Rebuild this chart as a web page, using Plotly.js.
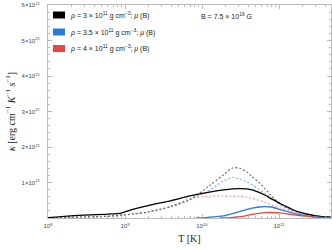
<!DOCTYPE html>
<html>
<head>
<meta charset="utf-8">
<script src="https://cdn.plot.ly/plotly-3.0.1.min.js"></script>
<style>html,body{margin:0;padding:0;background:#fff;}#chart{width:332px;height:249px;}</style>
</head>
<body>
<div id="chart"></div>
<script>
// Temperature grid [K]
var T = [1e8, 2e8, 6e8, 9e8, 1.3e9, 2e9, 4e9, 7e9, 1.2e10, 1.9e10, 2.5e10, 3.1e10, 3.8e10, 4.5e10, 5.5e10, 6.6e10, 8e10, 1.1e11, 1.4e11, 1.8e11, 3e11, 5e11];
// kappa in units of 1e21 erg cm^-1 K^-1 s^-1
var kBlackSolid = [0.01, 0.06, 0.11, 0.14, 0.25, 0.35, 0.49, 0.62, 0.72, 0.79, 0.82, 0.83, 0.82, 0.79, 0.72, 0.64, 0.54, 0.38, 0.27, 0.17, 0.06, 0.02];
var kBlackDash  = [0.00, 0.02, 0.05, 0.08, 0.12, 0.17, 0.33, 0.52, 0.88, 1.22, 1.41, 1.40, 1.30, 1.16, 1.00, 0.83, 0.62, 0.36, 0.25, 0.16, 0.06, 0.02];
var kBlueDash   = [0.00, 0.02, 0.05, 0.08, 0.11, 0.17, 0.31, 0.52, 0.76, 1.04, 1.14, 1.10, 1.02, 0.93, 0.80, 0.69, 0.56, 0.34, 0.24, 0.16, 0.06, 0.02];
var kRedDash    = [0.00, 0.02, 0.05, 0.08, 0.11, 0.17, 0.33, 0.55, 0.61, 0.62, 0.61, 0.61, 0.59, 0.55, 0.50, 0.44, 0.37, 0.27, 0.21, 0.15, 0.06, 0.02];
var TBlue = [8.4e9, 1.2e10, 1.9e10, 2.5e10, 3.1e10, 3.8e10, 4.5e10, 5.5e10, 6.6e10, 8e10, 1.1e11, 1.4e11, 1.8e11, 3e11, 5e11];
var kBlueSolid = [0.0, 0.02, 0.06, 0.12, 0.19, 0.24, 0.28, 0.31, 0.32, 0.31, 0.22, 0.16, 0.10, 0.03, 0.005];
var TRed = [1.7e10, 2.5e10, 3.1e10, 3.8e10, 4.5e10, 5.5e10, 6.6e10, 8e10, 1.1e11, 1.4e11, 1.8e11, 3e11, 5e11];
var kRedSolid = [0.0, 0.02, 0.04, 0.07, 0.10, 0.13, 0.15, 0.155, 0.14, 0.10, 0.07, 0.02, 0.005];

var legendLabels = [
  '<i>ρ</i> = 3 × 10<sup>11</sup> g cm<sup>−3</sup>; <i>μ</i> (B)',
  '<i>ρ</i> = 3.5 × 10<sup>11</sup> g cm<sup>−3</sup>; <i>μ</i> (B)',
  '<i>ρ</i> = 4 × 10<sup>11</sup> g cm<sup>−3</sup>; <i>μ</i> (B)'
];
var legendColors = ['#000000', '#2a7bd6', '#e8483f'];
var fieldLabel = 'B = 7.5 × 10<sup>16</sup> G';

var yTickVals = [1, 2, 3, 4, 5, 6];
var yTickText = ['1×10<sup>21</sup>', '2×10<sup>21</sup>', '3×10<sup>21</sup>', '4×10<sup>21</sup>', '5×10<sup>21</sup>', '6×10<sup>21</sup>'];
var xTickVals = [1e8, 1e9, 1e10, 1e11];
var xTickText = ['10<sup>8</sup>', '10<sup>9</sup>', '10<sup>10</sup>', '10<sup>11</sup>'];

var xMinor = [];
for (var d = 8; d <= 11; d++) { for (var m = 2; m <= 9; m++) { xMinor.push(m * Math.pow(10, d)); } }

function tr(x, y, color, dash, width) {
  return {x: x, y: y, type: 'scatter', mode: 'lines', showlegend: false,
    line: {color: color, dash: dash, width: width, shape: 'spline', smoothing: 0.8},
    hoverinfo: 'skip'};
}
var data = [
  tr(T, kRedDash, '#f2968f', '2px,2px', 1.1),
  tr(T, kBlueDash, '#7db2ea', '2px,2px', 1.1),
  tr(T, kBlackDash, '#666666', '2px,2px', 1.1),
  tr(T, kBlackSolid, '#000000', 'solid', 1.3),
  tr(TBlue, kBlueSolid, legendColors[1], 'solid', 1.3),
  tr(TRed, kRedSolid, legendColors[2], 'solid', 1.3),
  {x: [1e9], y: [null], xaxis: 'x2', type: 'scatter', mode: 'lines', showlegend: false}
];

var L = 48, R = 331, TOP = 5, BOT = 218;
function px(v) { return (v - L) / (R - L); }
function py(v) { return (BOT - v) / (BOT - TOP); }

var shapes = [], annotations = [];
var rows = [15, 32, 48.5];
for (var i = 0; i < 3; i++) {
  shapes.push({type: 'rect', xref: 'paper', yref: 'paper', x0: px(53), x1: px(65), y0: py(rows[i] + 3.5), y1: py(rows[i] - 3.5),
    fillcolor: legendColors[i], line: {width: 0}});
  annotations.push({xref: 'paper', yref: 'paper', x: px(67.5), y: py(rows[i]), xanchor: 'left', yanchor: 'middle',
    text: legendLabels[i], showarrow: false, font: {family: 'Liberation Sans, Arial, sans-serif', size: 7, color: '#222'}});
}
annotations.push({xref: 'paper', yref: 'paper', x: px(199), y: py(16), xanchor: 'left', yanchor: 'middle',
  text: fieldLabel, showarrow: false, font: {family: 'Liberation Sans, Arial, sans-serif', size: 7, color: '#222'}});

var tickFont = {family: 'Liberation Sans, Arial, sans-serif', size: 6, color: '#444'};
var layout = {
  width: 332, height: 249,
  margin: {l: L, r: 332 - R, t: TOP, b: 249 - BOT},
  paper_bgcolor: '#fff', plot_bgcolor: '#fff',
  xaxis: {type: 'log', range: [8, 8 + (R - L) / 77], tickvals: xTickVals, ticktext: xTickText,
    ticks: 'inside', ticklen: 4, tickcolor: '#aaa', tickwidth: 0.8, mirror: 'ticks',
    showline: true, linecolor: '#bbb', linewidth: 1, showgrid: false, zeroline: false,
    tickfont: tickFont, ticklabelstandoff: 2,
    title: {text: 'T [K]', font: {family: 'Liberation Serif, Times New Roman, serif', size: 10, color: '#222'}, standoff: 6}},
  xaxis2: {type: 'log', range: [8, 8 + (R - L) / 77], overlaying: 'x', tickvals: xMinor, showticklabels: false,
    ticks: 'inside', ticklen: 2, tickcolor: '#aaa', tickwidth: 0.8, mirror: 'ticks', showline: false, showgrid: false, zeroline: false},
  yaxis: {range: [0, 6], tickvals: yTickVals, ticktext: yTickText,
    ticks: 'inside', ticklen: 4, tickcolor: '#aaa', tickwidth: 0.8, mirror: 'ticks',
    showline: true, linecolor: '#bbb', linewidth: 1, showgrid: false, zeroline: false,
    tickfont: tickFont, ticklabelstandoff: 6,
    minor: {ticks: 'inside', ticklen: 2, dtick: 0.2, tickcolor: '#aaa', tickwidth: 0.8},
    title: {text: '<i>κ</i> [erg cm<sup>−1</sup> <i>K</i><sup>−1</sup> <i>s</i><sup>−1</sup>]', font: {family: 'Liberation Serif, Times New Roman, serif', size: 10, color: '#222'}, standoff: 4}},
  shapes: shapes,
  annotations: annotations
};
Plotly.newPlot('chart', data, layout, {displayModeBar: false, staticPlot: true});
</script>
</body>
</html>
